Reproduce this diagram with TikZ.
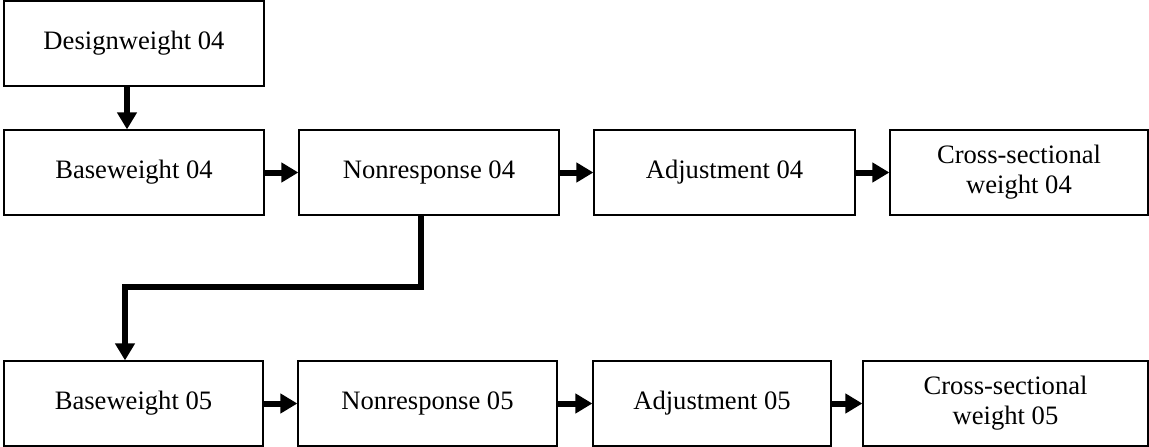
\documentclass[tikz,border=0pt]{standalone}
\usepackage{fontspec}
\setmainfont{Liberation Serif}
\usetikzlibrary{arrows.meta}

\begin{document}
\begin{tikzpicture}[x=1pt, y=-1pt,
  every node/.style={font=\fontsize{26.6}{30}\selectfont},
  wbox/.style={draw, line width=1.2pt, minimum height=85pt, inner sep=0pt, align=center},
  flow/.style={line width=6pt, -{Triangle[length=17pt,width=19pt]}}]
  \useasboundingbox (0,0) rectangle (1149,447);
  % wave 04
  \node[wbox, minimum width=260pt] (dw4) at (134,43.5) {Designweight 04};
  \node[wbox, minimum width=260pt] (bw4) at (134,172.5) {Baseweight 04};
  \node[wbox, minimum width=260pt] (nr4) at (429,172.5) {Nonresponse 04};
  \node[wbox, minimum width=261pt] (ad4) at (724.5,172.5) {Adjustment 04};
  \node[wbox, minimum width=258pt] (cs4) at (1019,172.5) {Cross-sectional\\weight 04};
  % wave 05
  \node[wbox, minimum width=259pt] (bw5) at (133.5,403.5) {Baseweight 05};
  \node[wbox, minimum width=259pt] (nr5) at (427.5,403.5) {Nonresponse 05};
  \node[wbox, minimum width=238pt] (ad5) at (712,403.5) {Adjustment 05};
  \node[wbox, minimum width=285pt] (cs5) at (1005.5,403.5) {Cross-sectional\\weight 05};
  % arrows
  \draw[flow] ([xshift=-7pt]dw4.south) -- ([xshift=-7pt]bw4.north);
  \draw[flow] (bw4) -- (nr4);
  \draw[flow] (nr4) -- (ad4);
  \draw[flow] (ad4) -- (cs4);
  \draw[flow] ([xshift=-8pt]nr4.south) |- (125,287) -- ([xshift=-8.5pt]bw5.north);
  \draw[flow] (bw5) -- (nr5);
  \draw[flow] (nr5) -- (ad5);
  \draw[flow] (ad5) -- (cs5);
\end{tikzpicture}
\end{document}
